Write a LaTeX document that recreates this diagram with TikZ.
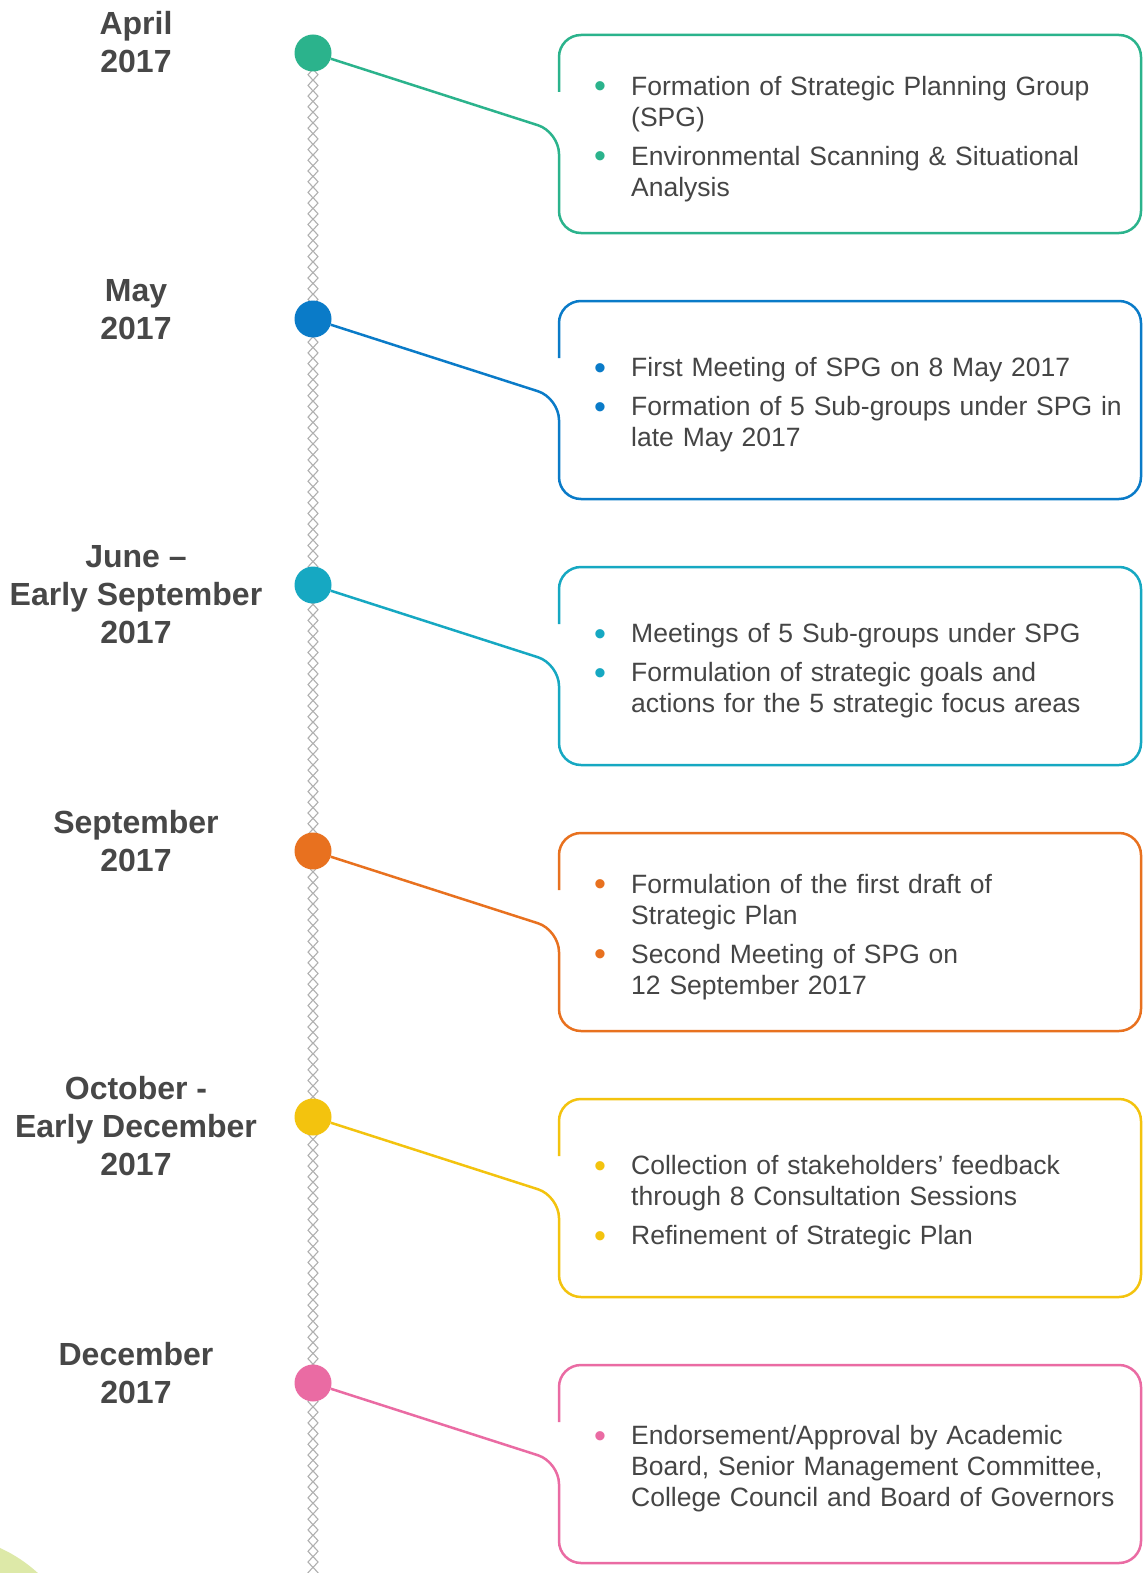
\documentclass[tikz,border=0pt]{standalone}
\usepackage{fontspec}
\setmainfont{Liberation Sans}
\definecolor{cteal}{HTML}{2BB38C}
\definecolor{cblue}{HTML}{0A7BC8}
\definecolor{ccyan}{HTML}{16A8C2}
\definecolor{corange}{HTML}{E8711F}
\definecolor{cyellow}{HTML}{F3C30E}
\definecolor{cpink}{HTML}{EA6BA3}
\definecolor{labc}{HTML}{474747}
\definecolor{bodyc}{HTML}{454545}
\definecolor{chainc}{HTML}{B0B0B0}
\definecolor{blobc}{HTML}{DDE9A8}
\newcommand{\bul}[2]{\par\hangindent=36pt\hangafter=1\noindent\makebox[36pt][l]{\hspace{-1pt}\raisebox{-2.5pt}{\textcolor{#1}{\fontsize{34}{31}\selectfont\textbullet}}}#2\par}
\newcommand{\gap}{\vskip 8pt}
\newcommand{\nl}{\hfil\break}
\begin{document}
\begin{tikzpicture}[x=1pt,y=-1pt,
  dot/.style={circle,inner sep=0pt,minimum size=37pt},
  boxline/.style={line width=2.5pt,rounded corners=22pt},
  lab/.style={anchor=base,align=center,inner sep=0pt,text=labc,font=\fontsize{32}{38}\selectfont\bfseries},
  body/.style={anchor=west,inner sep=0pt,text width=540pt,align=left,text=bodyc,font=\fontsize{26.5}{31}\selectfont},
  chainlink/.style={draw=chainc,line width=1.1pt}]
\useasboundingbox (0,0) rectangle (1145,1573);
\clip (0,0) rectangle (1145,1573);
\fill[white] (0,0) rectangle (1145,1573);
\fill[blobc] (-60,1680) circle (145pt);
% chain
\foreach \y in {64,74.7,...,1590}{
  \draw[chainlink] (313,\y-5.5) -- (318,\y) -- (313,\y+5.5) -- (308,\y) -- cycle;
}
% dots and boxes
\foreach \i/\c in {0/cteal,1/cblue,2/ccyan,3/corange,4/cyellow,5/cpink}{
  \pgfmathsetmacro\T{35+266*\i}
  \pgfmathsetmacro\B{\T+198}
  \node[dot,fill=\c] (d\i) at (313,\T+18) {};
  \draw[boxline,draw=\c] (d\i) -- (559,\T+97) -- (559,\B) -- (1141,\B) -- (1141,\T) -- (559,\T) -- (559,\T+57);
}
% month labels (anchor = baseline of last line)
\node[lab] (m0) at (136,73) {April\\2017};
\node[lab] (m1) at (136,339) {May\\2017};
\node[lab] (m2) at (136,643) {June –\\Early September\\2017};
\node[lab] (m3) at (136,871) {September\\2017};
\node[lab] (m4) at (136,1175) {October -\\Early December\\2017};
\node[lab] (m5) at (136,1403) {December\\2017};
% box texts
\node[body] (t0) at (595,133) {\bul{cteal}{Formation of Strategic Planning Group\nl(SPG)}\gap\bul{cteal}{Environmental Scanning \& Situational\nl Analysis}};
\node[body] (t1) at (595,399) {\bul{cblue}{First Meeting of SPG on 8 May 2017}\gap\bul{cblue}{Formation of 5 Sub-groups under SPG in\nl late May 2017}};
\node[body] (t2) at (595,665) {\bul{ccyan}{Meetings of 5 Sub-groups under SPG}\gap\bul{ccyan}{Formulation of strategic goals and\nl actions for the 5 strategic focus areas}};
\node[body] (t3) at (595,931) {\bul{corange}{Formulation of the first draft of\nl Strategic Plan}\gap\bul{corange}{Second Meeting of SPG on\nl 12 September 2017}};
\node[body] (t4) at (595,1197) {\bul{cyellow}{Collection of stakeholders’ feedback\nl through 8 Consultation Sessions}\gap\bul{cyellow}{Refinement of Strategic Plan}};
\node[body] (t5) at (595,1463) {\bul{cpink}{Endorsement/Approval by Academic\nl Board, Senior Management Committee,\nl College Council and Board of Governors}};
\end{tikzpicture}
\end{document}
